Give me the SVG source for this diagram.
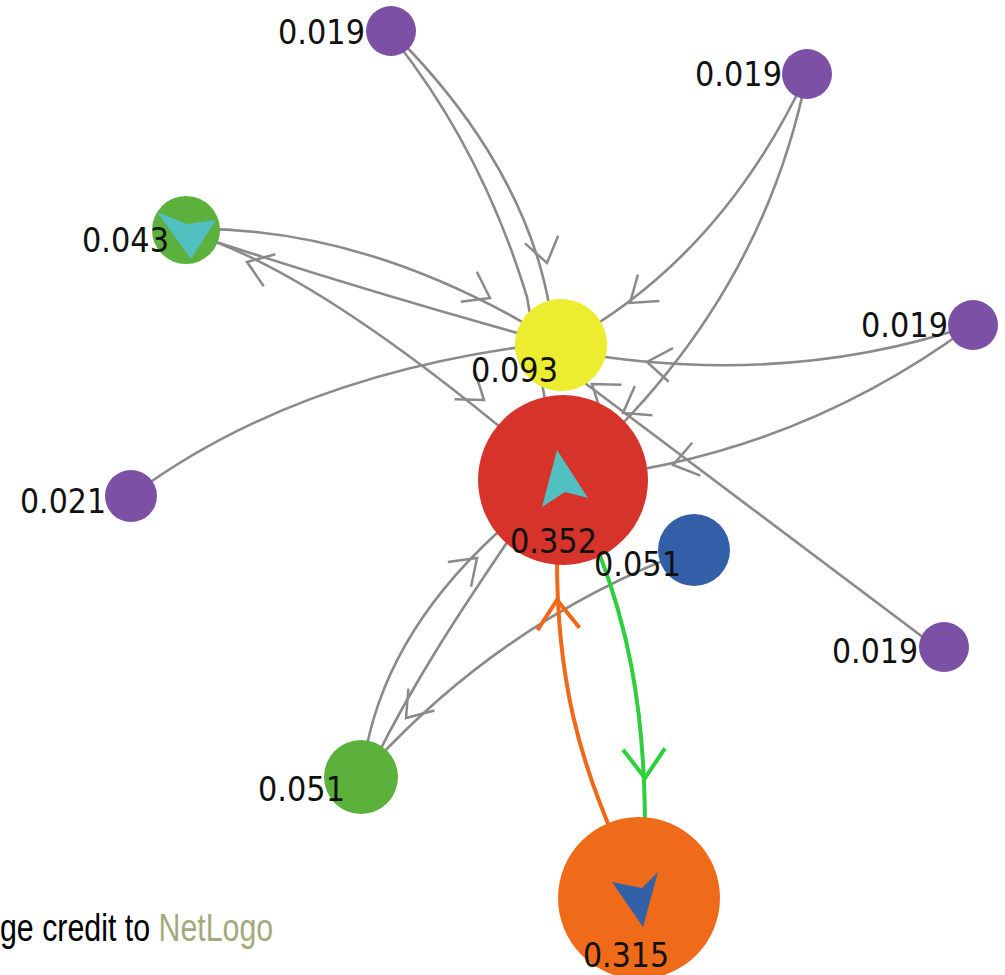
<svg xmlns="http://www.w3.org/2000/svg" width="1005" height="975" viewBox="0 0 1005 975">
<style>
.lk{fill:none;stroke:#8a8a8a;stroke-width:2.6}
.ag{fill:none;stroke:#8a8a8a;stroke-width:2.5}
.lo{fill:none;stroke:#f06919;stroke-width:4}
.lgn{fill:none;stroke:#2dcf3c;stroke-width:4}
.pu{fill:#7c50a4}
.lbl{font-family:"DejaVu Sans",sans-serif;font-size:34px;fill:#111}
.credit{font-family:"Liberation Sans",Arial,sans-serif;font-size:39px;fill:#000}
.nl{fill:#a4a97d}
</style>
<defs>
<path id="ahg" d="M-24,-17 L0,0 L-24,17"/>
<path id="ahc" d="M-29,-21 L0,0 L-29,21"/>
</defs>
<rect width="1005" height="975" fill="#fff"/>
<g id="connectors">
<path class="lk" d="M395,35 C455,95 530,190 550,310 L561,345"/>
<use href="#ahg" class="ag" transform="translate(547,263) rotate(77)"/>
<path class="lk" d="M395,40 Q483,152 527,297 L545,400"/>
<path class="lk" d="M186,229 Q370,225 561,345"/>
<use href="#ahg" class="ag" transform="translate(490,298) rotate(28)"/>
<path class="lk" d="M186,232 Q360,290 561,345"/>
<use href="#ahg" class="ag" transform="translate(247,262) rotate(200)"/>
<path class="lk" d="M186,232 Q320,270 563,480"/>
<use href="#ahg" class="ag" transform="translate(484,400) rotate(37)"/>
<path class="lk" d="M131,496 Q300,370 561,342"/>
<path class="lk" d="M807,74 Q720,260 561,345"/>
<use href="#ahg" class="ag" transform="translate(630,303) rotate(141)"/>
<path class="lk" d="M807,74 Q760,310 563,480"/>
<use href="#ahg" class="ag" transform="translate(623,413) rotate(149)"/>
<path class="lk" d="M972,325 Q780,390 561,350"/>
<use href="#ahg" class="ag" transform="translate(647,362) rotate(187)"/>
<path class="lk" d="M972,325 Q790,460 563,480"/>
<use href="#ahg" class="ag" transform="translate(673,465) rotate(166)"/>
<path class="lk" d="M944,653 L561,365"/>
<use href="#ahg" class="ag" transform="translate(592,384) rotate(217)"/>
<path class="lk" d="M366,750 Q395,600 563,480"/>
<use href="#ahg" class="ag" transform="translate(477,558) rotate(-43)"/>
<path class="lk" d="M525,515 C490,570 430,650 375,760"/>
<path class="lk" d="M693,549 Q500,620 361,777"/>
<use href="#ahg" class="ag" transform="translate(406,718) rotate(130)"/>
<path class="lo" d="M615,840 C580,760 557,680 557,560"/>
<use href="#ahc" class="lo" transform="translate(557,600) rotate(-93)"/>
<path class="lgn" d="M598,550 C625,620 645,700 645,830"/>
<use href="#ahc" class="lgn" transform="translate(645,778) rotate(88)"/>
</g>
<g id="node-p1"><circle class="pu" cx="391" cy="31" r="25"/><text class="lbl" x="278" y="44" textLength="87" lengthAdjust="spacingAndGlyphs">0.019</text></g>
<g id="node-p2"><circle class="pu" cx="807" cy="74" r="25"/><text class="lbl" x="695" y="86" textLength="87" lengthAdjust="spacingAndGlyphs">0.019</text></g>
<g id="node-g1"><circle cx="186" cy="230" r="34" fill="#5bb13c"/><polygon points="191,259 157,212 187,224 216,220" fill="#52c0c0"/><text class="lbl" x="82" y="252" textLength="87" lengthAdjust="spacingAndGlyphs">0.043</text></g>
<g id="node-y"><circle cx="561" cy="345" r="46" fill="#ecec30"/><text class="lbl" x="471" y="382" textLength="87" lengthAdjust="spacingAndGlyphs">0.093</text></g>
<g id="node-p3"><circle class="pu" cx="973" cy="325" r="25"/><text class="lbl" x="861" y="337" textLength="87" lengthAdjust="spacingAndGlyphs">0.019</text></g>
<g id="node-p4"><circle class="pu" cx="131" cy="496" r="26"/><text class="lbl" x="20" y="513" textLength="86" lengthAdjust="spacingAndGlyphs">0.021</text></g>
<g id="node-r"><circle cx="563" cy="480" r="85" fill="#d6332b"/><polygon points="557,450 588,498 565,492 542,507" fill="#52c0c0"/><text class="lbl" x="510" y="553" textLength="87" lengthAdjust="spacingAndGlyphs">0.352</text></g>
<g id="node-b"><circle cx="694" cy="550" r="36" fill="#335ea8"/><text class="lbl" x="594" y="576" textLength="87" lengthAdjust="spacingAndGlyphs">0.051</text></g>
<g id="node-p5"><circle class="pu" cx="944" cy="647" r="25"/><text class="lbl" x="832" y="663" textLength="86" lengthAdjust="spacingAndGlyphs">0.019</text></g>
<g id="node-g2"><circle cx="361" cy="777" r="37" fill="#5bb13c"/><text class="lbl" x="258" y="801" textLength="87" lengthAdjust="spacingAndGlyphs">0.051</text></g>
<g id="node-o"><circle cx="639" cy="898" r="81" fill="#ef6a19"/><polygon points="643,927 612,882 642,888 658,872" fill="#3361a8"/><text class="lbl" x="583" y="967" textLength="86" lengthAdjust="spacingAndGlyphs">0.315</text></g>
<g id="credit">
<text class="credit" transform="translate(0,941) scale(0.778,1)" x="0" y="0">ge credit to <tspan class="nl">NetLogo</tspan></text>
</g>
</svg>
